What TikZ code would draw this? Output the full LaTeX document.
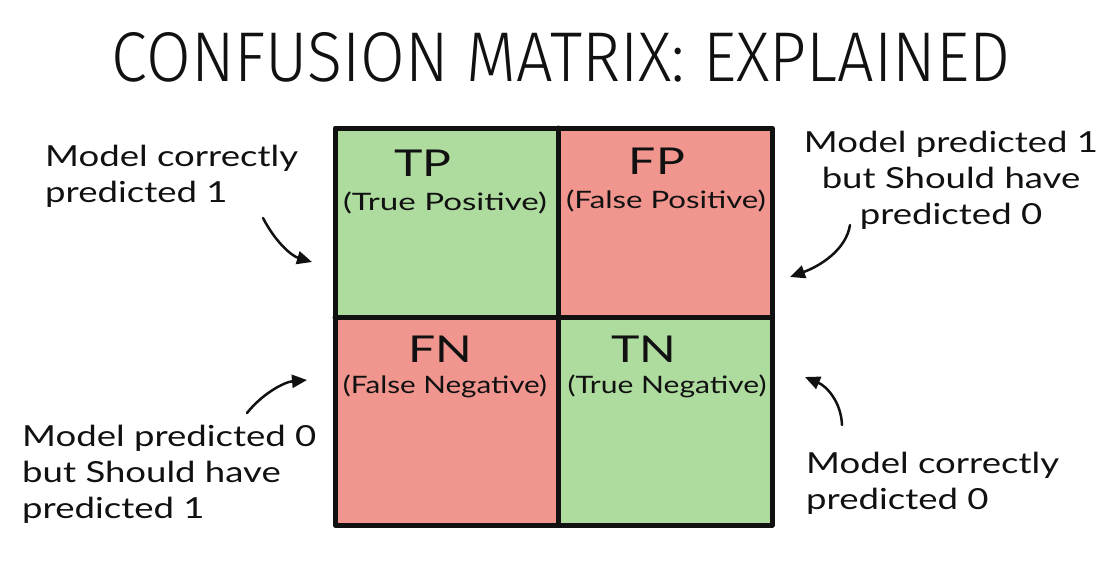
\documentclass[tikz,border=0pt]{standalone}
\usepackage{fontspec}
\usepackage{graphicx}
\setmainfont{Lato}
\newfontfamily\handA[FakeStretch=1.3]{Lato}
\newfontfamily\handC[FakeStretch=1.26]{Lato}
\newfontfamily\headfont[UprightFont={* Light}]{Fira Sans}
\usetikzlibrary{arrows.meta}
\definecolor{cellgreen}{RGB}{174,219,158}
\definecolor{cellred}{RGB}{241,150,143}
\definecolor{ink}{RGB}{17,17,17}
% stretch a label to a given width, keeping its height
\newcommand\widelabel[2]{\resizebox{#1}{\height}{#2}}

\begin{document}
\begin{tikzpicture}[x=1pt,y=-1pt,
  cell/.style={anchor=north west, inner sep=0pt, outer sep=0pt, draw=none},
  grid/.style={draw=ink, line width=5pt, line cap=round, line join=round},
  abbr/.style={font=\handA\fontsize{37}{40}\selectfont, text=ink, inner sep=0pt},
  full/.style={font=\fontsize{24}{28}\selectfont, text=ink, inner sep=0pt},
  note/.style={font=\handC\fontsize{29}{36}\selectfont, text=ink, inner sep=0pt},
  pointer/.style={draw=ink, line width=2.5pt, line cap=round,
    -{Triangle[length=15pt,width=13pt]}}]

% page frame
\useasboundingbox (0,0) rectangle (1115,581);
\fill[white] (0,0) rectangle (1115,581);

% title
\node[inner sep=0pt, text=ink] (title) at (561,57.5)
  {\resizebox{898pt}{49pt}{\headfont CONFUSION MATRIX: EXPLAINED}};

% the four cells
\node[cell, fill=cellgreen, minimum width=223pt, minimum height=189pt] (tp) at (335,128) {};
\node[cell, fill=cellred,   minimum width=214pt, minimum height=189pt] (fp) at (558,128) {};
\node[cell, fill=cellred,   minimum width=223pt, minimum height=208pt] (fn) at (335,317) {};
\node[cell, fill=cellgreen, minimum width=214pt, minimum height=208pt] (tn) at (558,317) {};

% outline and dividers
\draw[grid] (tp.north west) rectangle (tn.south east);
\draw[grid] (tp.north east) -- (tn.south west);
\draw[grid] (tp.south west) -- (fp.south east);

% cell labels
\node[abbr] (tpA) at (423,163) {TP};
\node[full] (tpB) at (445,203) {\widelabel{204pt}{(True Positive)}};
\node[abbr] (fpA) at (657,161) {FP};
\node[full] (fpB) at (666,201) {\widelabel{200pt}{(False Positive)}};
\node[abbr] (fnA) at (440,349) {FN};
\node[full] (fnB) at (445,386) {\widelabel{204pt}{(False Negative)}};
\node[abbr] (tnA) at (644,349) {TN};
\node[full] (tnB) at (667,386) {\widelabel{199pt}{(True Negative)}};

% side notes
\node[note, anchor=north west, align=left] (noteTL) at (45,145)
  {Model correctly\\predicted 1};
\node[note, anchor=north, align=center] (noteTR) at (951,131)
  {Model predicted 1\\but Should have\\predicted 0};
\node[note, anchor=north west, align=left] (noteBL) at (22,425)
  {Model predicted 0\\but Should have\\predicted 1};
\node[note, anchor=north west, align=left] (noteBR) at (806,452)
  {Model correctly\\predicted 0};

% pointer ends
\coordinate (tlS) at (263,218); \coordinate (tlE) at (312,262);
\coordinate (trS) at (850,225); \coordinate (trE) at (790,277);
\coordinate (blS) at (247,413); \coordinate (blE) at (307,380);
\coordinate (brS) at (842,425); \coordinate (brE) at (805,377);

% curved pointers
\draw[pointer] (tlS) .. controls (276,243) and (292,256) .. (tlE);
\draw[pointer] (trS) .. controls (846,250) and (820,266) .. (trE);
\draw[pointer] (blS) .. controls (262,394) and (284,382) .. (blE);
\draw[pointer] (brS) .. controls (841,401) and (826,386) .. (brE);
\end{tikzpicture}
\end{document}
